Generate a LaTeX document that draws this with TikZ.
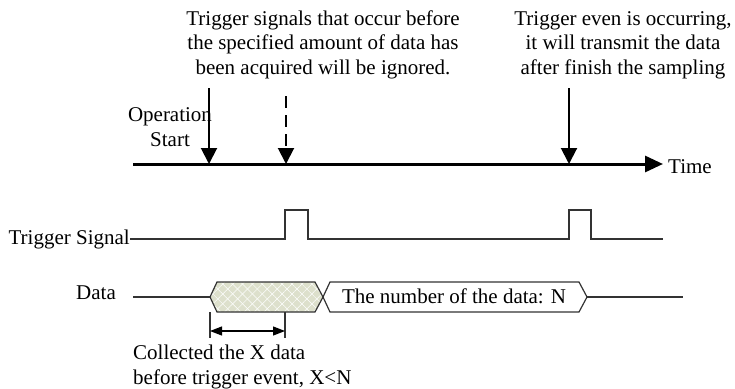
\documentclass[tikz,border=0pt]{standalone}
\usepackage{fontspec}
\setmainfont{Liberation Serif}
\usetikzlibrary{arrows.meta,patterns.meta}
\definecolor{hexfill}{RGB}{221,224,204}

\begin{document}
\begin{tikzpicture}[x=1pt,y=1pt]
\tikzstyle{every node}+=[inner sep=0pt,font=\fontsize{21}{24.5}\selectfont]
\tikzstyle{markarrow}=[line width=2pt,-{Triangle[length=16pt,width=16pt]}]
\tikzstyle{wave}=[line width=1.2pt,black!80]
\useasboundingbox (0,0) rectangle (735,-388);
% time axis
\coordinate (t0) at (133,-164);
\coordinate (t1) at (663,-164);
\coordinate (op) at (209,-164);
\coordinate (ig) at (286,-164);
\coordinate (tr) at (569,-164);
\draw [line width=3pt,-{Triangle[length=18pt,width=16pt]}] (t0) -- (t1);
\node (time) [anchor=base west] at (668,-173) {Time};
% notes and their arrows
\node (ignored) [align=center,anchor=base] at (323,-74) {Trigger signals that occur before\\the specified amount of data has\\been acquired will be ignored.};
\node (transmit) [align=center,anchor=base] at (623,-74) {Trigger even is occurring,\\it will transmit the data\\after finish the sampling};
\node (opstart) [align=center,anchor=base] at (170,-146) {Operation\\Start};
\coordinate (op0) at (209,-88);
\coordinate (ig0) at (286,-96);
\coordinate (tr0) at (569,-88);
\draw [markarrow] (op0) -- (op);
\draw [markarrow,dash pattern=on 12pt off 7pt] (ig0) -- (ig);
\draw [markarrow] (tr0) -- (tr);
% trigger signal
\node (trig) [anchor=east] at (130,-239) {Trigger Signal};
\draw [wave] (trig.east) -- (285,-239) -- (285,-210) -- (308,-210) -- (308,-239)
  -- (569,-239) -- (569,-210) -- (591,-210) -- (591,-239) -- (663,-239);
% data
\node (data) at (96,-293) {Data};
\draw [wave] (133,-297) -- (210,-297);
\draw [wave,preaction={fill=hexfill},
  preaction={pattern={Lines[angle=45,distance=7pt,line width=0.5pt]},pattern color=white},
  preaction={pattern={Lines[angle=-45,distance=7pt,line width=0.5pt]},pattern color=white}]
  (210,-297) -- (217,-282) -- (315,-282) -- (323,-297) -- (315,-312) -- (217,-312) -- cycle;
\draw [wave,fill=white] (323,-297) -- (330,-282) -- (579,-282) -- (587,-297) -- (579,-312) -- (330,-312) -- cycle;
\draw [wave] (587,-297) -- (683,-297);
\node (count) at (454,-296) {The number of the data: N};
% collected span
\draw [wave] (210,-312) -- (210,-338);
\draw [wave] (285,-312) -- (285,-338);
\coordinate (x0) at (210,-331);
\coordinate (x1) at (285,-331);
\draw [line width=1.2pt,{Triangle[length=12pt,width=9pt]}-{Triangle[length=12pt,width=9pt]}] (x0) -- (x1);
\node (collected) [align=left,anchor=base west] at (133,-384) {Collected the X data\\before trigger event, X<N};
\end{tikzpicture}
\end{document}
